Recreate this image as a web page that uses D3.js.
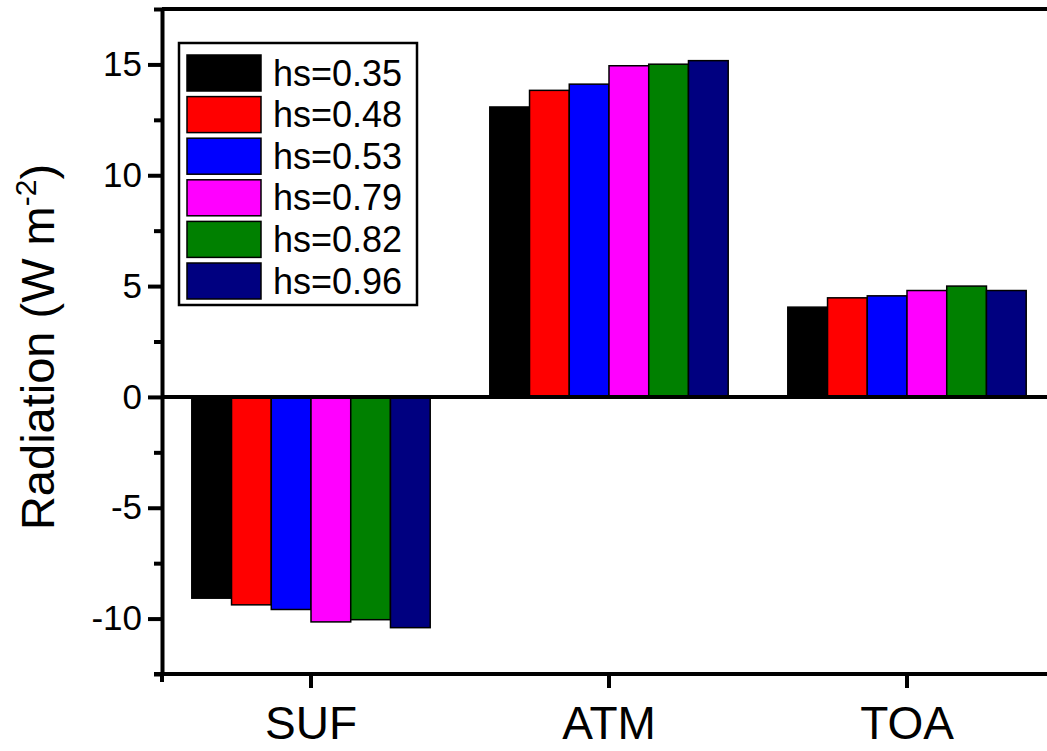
<!DOCTYPE html>
<html>
<head>
<meta charset="utf-8">
<script src="https://cdn.jsdelivr.net/npm/d3@7"></script>
<style>
  body { margin: 0; background: #fff; }
  svg { display: block; font-family: "Liberation Sans", Arial, sans-serif; }
</style>
</head>
<body>
<script>
// data
var categories = ['SUF', 'ATM', 'TOA'];
var seriesNames = ['hs=0.35', 'hs=0.48', 'hs=0.53', 'hs=0.79', 'hs=0.82', 'hs=0.96'];
var seriesColors = ['#000000', '#ff0000', '#0000ff', '#ff00ff', '#008000', '#000080'];
// values per series, in category order SUF, ATM, TOA
var hs035 = [-9.08, 13.08, 4.05];
var hs048 = [-9.38, 13.83, 4.47];
var hs053 = [-9.59, 14.11, 4.56];
var hs079 = [-10.15, 14.94, 4.80];
var hs082 = [-10.05, 15.01, 5.00];
var hs096 = [-10.41, 15.17, 4.80];
var seriesValues = [hs035, hs048, hs053, hs079, hs082, hs096];
var yMajorTicks = [-10, -5, 0, 5, 10, 15];
var yMinorTicks = [-12.5, -7.5, -2.5, 2.5, 7.5, 12.5, 17.5];

var svgWidth = 1047, svgHeight = 751;
var plotLeft = 162, plotRight = 1056, plotTop = 9, plotBottom = 674;

var svg = d3.select('body').append('svg')
	.attr('width', svgWidth)
	.attr('height', svgHeight);

var x = d3.scaleBand()
	.domain(categories)
	.range([plotLeft, plotRight])
	.paddingInner(0.2)
	.paddingOuter(0.1);

var xInner = d3.scaleBand()
	.domain(seriesNames)
	.range([0, x.bandwidth()]);

var y = d3.scaleLinear()
	.domain([-12.5, 17.5])
	.range([plotBottom, plotTop]);

// bars
var groups = svg.append('g').selectAll('g')
	.data(categories)
	.enter()
	.append('g')
	.attr('transform', function(d) { return 'translate(' + x(d) + ',0)'; });

groups.selectAll('rect')
	.data(function(d, ci) {
		return seriesNames.map(function(s, si) {
			return { name: s, value: seriesValues[si][ci], color: seriesColors[si] };
		});
	})
	.enter()
	.append('rect')
	.attr('x', function(d) { return xInner(d.name); })
	.attr('width', xInner.bandwidth())
	.attr('y', function(d) { return y(Math.max(0, d.value)); })
	.attr('height', function(d) { return Math.abs(y(d.value) - y(0)); })
	.attr('fill', function(d) { return d.color; })
	.attr('stroke', '#000')
	.attr('stroke-width', 1.5);

// zero line
svg.append('line')
	.attr('x1', plotLeft)
	.attr('x2', plotRight)
	.attr('y1', y(0))
	.attr('y2', y(0))
	.attr('stroke', '#000')
	.attr('stroke-width', 4);

// frame (top + right mirror lines)
svg.append('path')
	.attr('d', 'M' + plotLeft + ',' + plotTop + 'H' + plotRight + 'V' + plotBottom)
	.attr('fill', 'none')
	.attr('stroke', '#000')
	.attr('stroke-width', 4);

// y axis
var yMinor = svg.append('g')
	.attr('transform', 'translate(' + plotLeft + ',0)')
	.call(d3.axisLeft(y).tickValues(yMinorTicks).tickSize(8).tickSizeOuter(0).tickFormat(''));
yMinor.select('.domain').remove();
yMinor.selectAll('line').attr('stroke-width', 4);

var yAxis = svg.append('g')
	.attr('transform', 'translate(' + plotLeft + ',0)')
	.call(d3.axisLeft(y).tickValues(yMajorTicks).tickSize(14).tickSizeOuter(0).tickPadding(6)
		.tickFormat(function(d) { return String(d); }));
yAxis.select('.domain').attr('stroke-width', 4);
yAxis.selectAll('line').attr('stroke-width', 4);
yAxis.selectAll('text')
	.attr('font-size', 35)
	.attr('fill', '#000')
	.attr('font-family', '"Liberation Sans", Arial, sans-serif');

// x axis
var xAxis = svg.append('g')
	.attr('transform', 'translate(0,' + plotBottom + ')')
	.call(d3.axisBottom(x).tickSize(14).tickSizeOuter(0).tickPadding(18));
xAxis.select('.domain').attr('stroke-width', 4)
	.attr('d', 'M' + (plotLeft - 8) + ',0H' + plotRight);
xAxis.selectAll('line').attr('stroke-width', 4);
xAxis.selectAll('text')
	.attr('font-size', 46)
	.attr('fill', '#000')
	.attr('font-family', '"Liberation Sans", Arial, sans-serif');
// small tick below the corner
svg.append('line')
	.attr('x1', plotLeft).attr('x2', plotLeft)
	.attr('y1', plotBottom).attr('y2', plotBottom + 8)
	.attr('stroke', '#000').attr('stroke-width', 4);

// y title
var title = svg.append('text')
	.attr('transform', 'translate(54,347) rotate(-90)')
	.attr('text-anchor', 'middle')
	.attr('font-size', 47)
	.attr('fill', '#000');
title.append('tspan').text('Radiation (W m');
title.append('tspan').attr('font-size', 30).attr('dy', -18).text('-2');
title.append('tspan').attr('dy', 18).text(')');

// legend
var legend = svg.append('g');
legend.append('rect')
	.attr('x', 179).attr('y', 43)
	.attr('width', 238).attr('height', 262)
	.attr('fill', '#fff')
	.attr('stroke', '#000')
	.attr('stroke-width', 2.5);

var items = legend.selectAll('g.item')
	.data(seriesNames)
	.enter()
	.append('g')
	.attr('class', 'item')
	.attr('transform', function(d, i) { return 'translate(187,' + (55 + i * 41.6) + ')'; });

items.append('rect')
	.attr('width', 74)
	.attr('height', 36)
	.attr('fill', function(d, i) { return seriesColors[i]; })
	.attr('stroke', '#000')
	.attr('stroke-width', 1.5);

items.append('text')
	.attr('x', 86)
	.attr('y', 18)
	.attr('dy', '0.35em')
	.attr('font-size', 36)
	.attr('fill', '#000')
	.text(function(d) { return d; });
</script>
</body>
</html>
